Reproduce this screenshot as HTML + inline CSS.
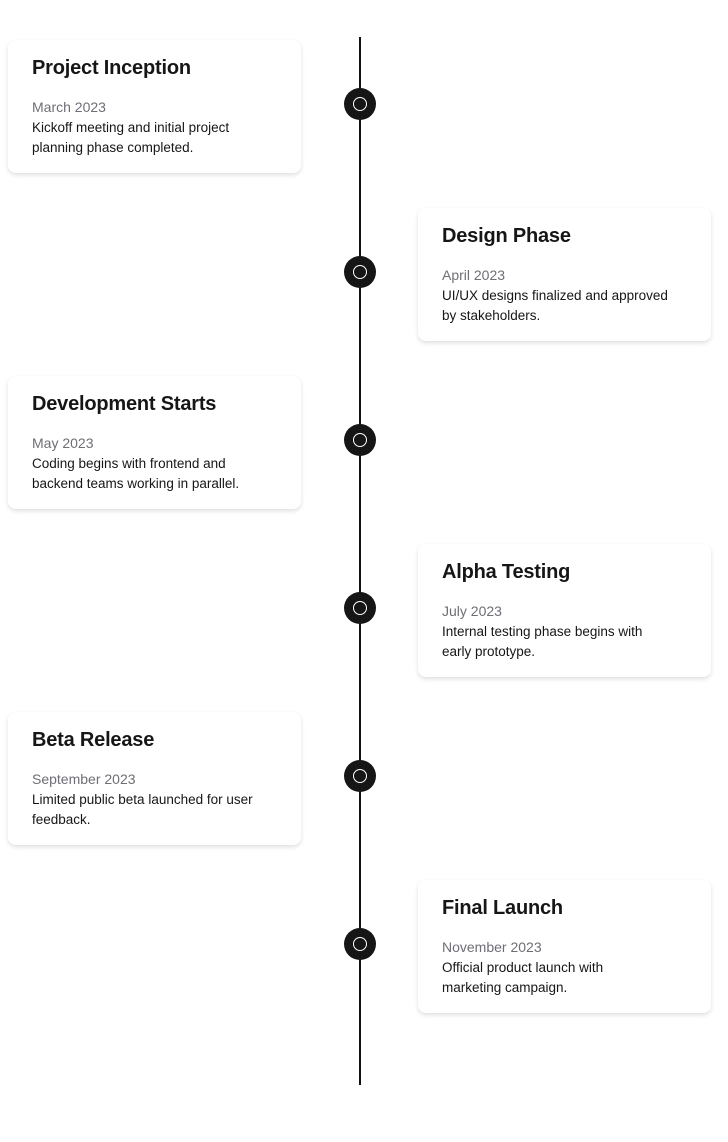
<!DOCTYPE html>
<html><head><style>
body{margin:0;width:728px;height:1142px;background:#fff;font-family:"Liberation Sans",sans-serif;position:relative;overflow:hidden}
.line{position:absolute;left:359px;top:37px;width:2px;height:1048px;background:#111}
.dot{position:absolute;width:32px;height:32px;border-radius:50%;background:#161616;left:344px}
.dot::after{content:"";position:absolute;left:9px;top:9px;width:14px;height:14px;box-sizing:border-box;border:1.5px solid #fff;border-radius:50%}
.card{position:absolute;width:293px;height:133px;background:#fff;border-radius:8px;box-shadow:0 2px 5px rgba(0,0,0,.13);box-sizing:border-box;padding:16px 24px}
.card h3{margin:0;font-size:20px;font-weight:bold;color:#161616;line-height:24px;letter-spacing:-0.2px}
.card .d{margin-top:17px;font-size:14px;color:#6e6e76;line-height:20px}
.card p{margin:1px 0 0;white-space:nowrap;font-size:13.5px;color:#161616;line-height:20px}
</style></head><body>
<div class="line"></div>
<div class="dot" style="top:88px"></div>
<div class="dot" style="top:256px"></div>
<div class="dot" style="top:424px"></div>
<div class="dot" style="top:592px"></div>
<div class="dot" style="top:760px"></div>
<div class="dot" style="top:928px"></div>
<div class="card" style="left:8px;top:40px"><h3>Project Inception</h3><div class="d">March 2023</div><p>Kickoff meeting and initial project<br>planning phase completed.</p></div>
<div class="card" style="left:418px;top:208px"><h3>Design Phase</h3><div class="d">April 2023</div><p>UI/UX designs finalized and approved<br>by stakeholders.</p></div>
<div class="card" style="left:8px;top:376px"><h3>Development Starts</h3><div class="d">May 2023</div><p>Coding begins with frontend and<br>backend teams working in parallel.</p></div>
<div class="card" style="left:418px;top:544px"><h3>Alpha Testing</h3><div class="d">July 2023</div><p>Internal testing phase begins with<br>early prototype.</p></div>
<div class="card" style="left:8px;top:712px"><h3>Beta Release</h3><div class="d">September 2023</div><p>Limited public beta launched for user<br>feedback.</p></div>
<div class="card" style="left:418px;top:880px"><h3>Final Launch</h3><div class="d">November 2023</div><p>Official product launch with<br>marketing campaign.</p></div>
</body></html>
